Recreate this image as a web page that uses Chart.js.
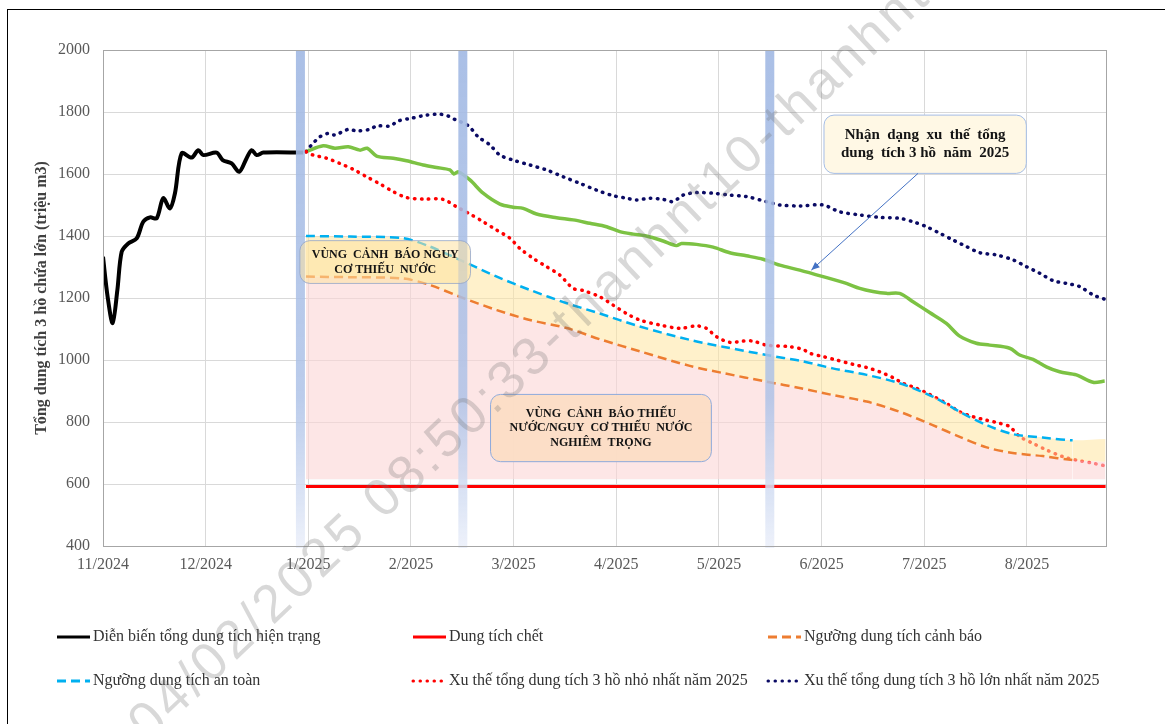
<!DOCTYPE html>
<html>
<head>
<meta charset="utf-8">
<script src="https://cdn.jsdelivr.net/npm/chart.js@4"></script>
<style>
  html, body { margin: 0; padding: 0; background: #fff; }
  #wrap { position: relative; width: 1165px; height: 724px; overflow: hidden; }
  #frame { position: absolute; left: 7px; top: 9px; right: -2px; bottom: -2px;
           border-top: 1.5px solid #000; border-left: 1.5px solid #000; pointer-events: none; }
</style>
</head>
<body>
<div id="wrap">
  <canvas id="chart" width="1165" height="724"></canvas>
  <div id="frame"></div>
</div>
<script>
// trục hoành: x = số tháng tính từ 11/2024
const monthLabels = ['11/2024', '12/2024', '1/2025', '2/2025', '3/2025', '4/2025', '5/2025', '6/2025', '7/2025', '8/2025'];
const xMax = 9.77;

// Diễn biến tổng dung tích hiện trạng
const actualX = [0, 0.045, 0.094, 0.14, 0.182, 0.246, 0.328, 0.392, 0.458, 0.523, 0.587, 0.652, 0.701, 0.766, 0.864, 0.928, 0.977, 1.107, 1.166, 1.253, 1.327, 1.399, 1.448, 1.497, 1.561, 1.95];
const actualY = [1333, 1204, 1119, 1226, 1349, 1376, 1392, 1446, 1460, 1457, 1522, 1489, 1538, 1667, 1653, 1677, 1661, 1669, 1645, 1634, 1607, 1651, 1677, 1661, 1669, 1669];

// Dung tích chết
const deadX = [1.977, 9.766];
const deadY = [592, 592];

// Ngưỡng an toàn / cảnh báo (cùng mốc x)
const thresholdX = [1.977, 2.405, 2.921, 3.184, 3.476, 3.836, 4.158, 4.518, 4.839, 5.229, 5.716, 6.037, 6.465, 6.797, 7.108, 7.439, 7.760, 8.082, 8.345, 8.607, 8.861, 9.153, 9.445, 9.766];
const safeY = [1400, 1398, 1393, 1366, 1323, 1269, 1226, 1183, 1150, 1108, 1065, 1043, 1016, 997, 973, 952, 925, 882, 833, 790, 761, 750, 741, 745];
const warnY = [1269, 1267, 1263, 1242, 1204, 1161, 1129, 1103, 1067, 1028, 981, 958, 930, 909, 887, 866, 833, 790, 752, 718, 700, 690, 677, 672];
const zoneBase = 615;

// Xu thế nhỏ nhất năm 2025
const minX = [1.977, 2.048, 2.178, 2.308, 2.437, 2.568, 2.697, 2.827, 2.957, 3.119, 3.314, 3.444, 3.574, 3.703, 3.834, 3.963, 4.060, 4.190, 4.320, 4.450, 4.579, 4.677, 4.839, 4.969, 5.099, 5.229, 5.424, 5.619, 5.781, 5.878, 5.976, 6.105, 6.235, 6.332, 6.462, 6.690, 6.819, 6.884, 7.014, 7.144, 7.306, 7.436, 7.565, 7.695, 7.792, 7.923, 8.052, 8.215, 8.345, 8.474, 8.605, 8.734, 8.832, 8.929, 9.059, 9.189, 9.351, 9.481, 9.643, 9.757];
const minY = [1672, 1661, 1651, 1634, 1615, 1591, 1568, 1543, 1524, 1519, 1518, 1494, 1471, 1446, 1419, 1393, 1360, 1328, 1301, 1274, 1231, 1224, 1204, 1177, 1150, 1129, 1113, 1102, 1110, 1102, 1075, 1057, 1061, 1061, 1048, 1043, 1034, 1022, 1011, 1000, 986, 976, 962, 943, 925, 909, 889, 860, 833, 817, 806, 796, 785, 753, 731, 710, 688, 677, 667, 659];

// Xu thế lớn nhất năm 2025
const maxX = [1.977, 2.032, 2.113, 2.194, 2.259, 2.389, 2.470, 2.600, 2.665, 2.795, 2.875, 3.006, 3.152, 3.281, 3.362, 3.427, 3.557, 3.654, 3.768, 3.866, 3.995, 4.158, 4.320, 4.482, 4.644, 4.807, 4.969, 5.099, 5.197, 5.326, 5.456, 5.553, 5.650, 5.781, 5.943, 6.105, 6.268, 6.462, 6.592, 6.787, 7.014, 7.176, 7.371, 7.566, 7.760, 7.890, 8.021, 8.150, 8.280, 8.410, 8.540, 8.702, 8.864, 8.994, 9.124, 9.254, 9.384, 9.513, 9.643, 9.757];
const maxY = [1672, 1694, 1720, 1731, 1726, 1744, 1739, 1744, 1755, 1755, 1771, 1780, 1790, 1793, 1787, 1776, 1756, 1720, 1694, 1661, 1645, 1629, 1613, 1591, 1570, 1548, 1530, 1522, 1516, 1522, 1518, 1511, 1532, 1540, 1538, 1532, 1527, 1511, 1500, 1497, 1500, 1478, 1468, 1460, 1457, 1446, 1430, 1409, 1387, 1366, 1346, 1339, 1323, 1301, 1280, 1256, 1247, 1237, 1210, 1196];

// Xu thế tổng dung tích 3 hồ năm 2025 (đường xanh lá)
const trendX = [1.977, 2.145, 2.259, 2.389, 2.502, 2.574, 2.665, 2.827, 2.957, 3.119, 3.249, 3.379, 3.418, 3.460, 3.574, 3.703, 3.866, 3.995, 4.093, 4.223, 4.418, 4.579, 4.742, 4.905, 5.034, 5.164, 5.294, 5.456, 5.586, 5.635, 5.781, 5.943, 6.105, 6.268, 6.429, 6.592, 6.787, 7.014, 7.241, 7.371, 7.500, 7.631, 7.760, 7.890, 8.052, 8.215, 8.345, 8.507, 8.637, 8.832, 8.929, 9.059, 9.189, 9.318, 9.481, 9.643, 9.757];
const trendY = [1672, 1691, 1683, 1688, 1677, 1683, 1658, 1651, 1643, 1629, 1621, 1613, 1600, 1607, 1581, 1538, 1503, 1493, 1489, 1471, 1459, 1452, 1441, 1430, 1414, 1406, 1400, 1384, 1369, 1376, 1373, 1364, 1346, 1336, 1325, 1306, 1290, 1269, 1247, 1231, 1221, 1215, 1215, 1188, 1153, 1118, 1077, 1054, 1048, 1038, 1016, 1002, 978, 962, 952, 928, 932];

// vạch phân đoạn và ghi chú
const separatorMonths = [1.923, 3.505, 6.495];
const notes = [
  { x0: 1.918, x1: 3.58, y0: 1385, y1: 1247, lines: ['VÙNG  CẢNH  BÁO NGUY', 'CƠ THIẾU  NƯỚC'],
    fill: 'rgba(253,226,160,0.55)', stroke: 'rgba(140,160,200,0.75)', size: 12, gap: 15 },
  { x0: 3.775, x1: 5.926, y0: 889, y1: 672, lines: ['VÙNG  CẢNH  BÁO THIẾU', 'NƯỚC/NGUY  CƠ THIẾU  NƯỚC', 'NGHIÊM  TRỌNG'],
    fill: 'rgba(252,221,196,0.92)', stroke: '#8eaadb', size: 12, gap: 14.5 },
  { x0: 7.023, x1: 8.994, y0: 1790, y1: 1602, lines: ['Nhận  dạng  xu  thế  tổng', 'dung  tích 3 hồ  năm  2025'],
    fill: '#fff8e5', stroke: '#a4bde6', size: 15, gap: 18 }
];
const arrowFrom = { x: 7.939, y: 1602 };
const arrowTo = { x: 6.90, y: 1290 };

const pts = (xs, ys) => xs.map((x, i) => ({ x: x, y: ys[i] }));
const serif = '"Liberation Serif", "Times New Roman", serif';
Chart.defaults.font.family = serif;

const dotted = [0.5, 6.5];
const dashed = [9, 5];
const hideLast = n => ctx => ctx.p1DataIndex === n - 1 ? 'rgba(0,0,0,0)' : undefined;

const separators = {
  id: 'separators',
  afterDatasetsDraw(chart) {
    const { ctx, chartArea, scales: { x } } = chart;
    separatorMonths.forEach(m => {
      const cx = x.getPixelForValue(m);
      const g = ctx.createLinearGradient(0, chartArea.top, 0, chartArea.bottom);
      g.addColorStop(0, 'rgba(163,186,228,0.92)');
      g.addColorStop(0.7, 'rgba(172,193,231,0.82)');
      g.addColorStop(1, 'rgba(236,240,250,0.92)');
      ctx.save();
      ctx.fillStyle = g;
      ctx.fillRect(cx - 4.5, chartArea.top, 9, chartArea.bottom - chartArea.top + 2);
      ctx.restore();
    });
  }
};

function roundRect(ctx, x, y, w, h, r) {
  ctx.beginPath();
  ctx.moveTo(x + r, y);
  ctx.arcTo(x + w, y, x + w, y + h, r);
  ctx.arcTo(x + w, y + h, x, y + h, r);
  ctx.arcTo(x, y + h, x, y, r);
  ctx.arcTo(x, y, x + w, y, r);
  ctx.closePath();
}

const annotations = {
  id: 'annotations',
  afterDraw(chart) {
    const { ctx, scales: { x, y }, chartArea } = chart;
    // khung vùng vẽ
    ctx.save();
    ctx.strokeStyle = '#a6a6a6';
    ctx.lineWidth = 1;
    ctx.strokeRect(chartArea.left + 0.5, chartArea.top + 0.5, chartArea.right - chartArea.left, chartArea.bottom - chartArea.top);
    ctx.restore();

    notes.forEach(n => {
      const l = x.getPixelForValue(n.x0), r = x.getPixelForValue(n.x1);
      const t = y.getPixelForValue(n.y0), b = y.getPixelForValue(n.y1);
      ctx.save();
      roundRect(ctx, l, t, r - l, b - t, 10);
      ctx.fillStyle = n.fill;
      ctx.fill();
      ctx.strokeStyle = n.stroke;
      ctx.lineWidth = 1;
      ctx.stroke();
      ctx.fillStyle = '#141414';
      ctx.font = 'bold ' + n.size + 'px ' + serif;
      ctx.textAlign = 'center';
      ctx.textBaseline = 'middle';
      const cy = (t + b) / 2 - (n.lines.length - 1) * n.gap / 2;
      n.lines.forEach((s, i) => ctx.fillText(s, (l + r) / 2, cy + i * n.gap));
      ctx.restore();
    });

    // mũi tên
    const x1 = x.getPixelForValue(arrowFrom.x), y1 = y.getPixelForValue(arrowFrom.y);
    const x2 = x.getPixelForValue(arrowTo.x), y2 = y.getPixelForValue(arrowTo.y);
    const a = Math.atan2(y2 - y1, x2 - x1);
    ctx.save();
    ctx.strokeStyle = '#4472c4';
    ctx.fillStyle = '#4472c4';
    ctx.lineWidth = 1;
    ctx.beginPath(); ctx.moveTo(x1, y1); ctx.lineTo(x2, y2); ctx.stroke();
    ctx.beginPath();
    ctx.moveTo(x2, y2);
    ctx.lineTo(x2 - 9 * Math.cos(a - 0.4), y2 - 9 * Math.sin(a - 0.4));
    ctx.lineTo(x2 - 9 * Math.cos(a + 0.4), y2 - 9 * Math.sin(a + 0.4));
    ctx.closePath(); ctx.fill();
    ctx.restore();

    // chú giải
    const cols = [57, 413, 768], rows = [637, 681];
    chart.data.datasets.forEach((ds, i) => {
      if (ds.noLegend) return;
      const lx = cols[i % 3], ly = rows[Math.floor(i / 3)];
      ctx.save();
      ctx.strokeStyle = ds.borderColor;
      ctx.lineWidth = 3;
      ctx.lineCap = ds.borderCapStyle || 'butt';
      ctx.setLineDash(ds.borderDash || []);
      ctx.beginPath(); ctx.moveTo(lx, ly); ctx.lineTo(lx + 33, ly); ctx.stroke();
      ctx.setLineDash([]);
      ctx.fillStyle = '#333';
      ctx.font = '16px ' + serif;
      ctx.textBaseline = 'middle';
      ctx.fillText(ds.label, lx + 36, ly);
      ctx.restore();
    });

    // dấu nước
    ctx.save();
    ctx.translate(150, 722);
    ctx.rotate(-43.5 * Math.PI / 180);
    ctx.font = '53px "Liberation Sans", sans-serif';
    ctx.letterSpacing = '4px';
    ctx.fillStyle = 'rgba(110,110,110,0.27)';
    ctx.textBaseline = 'middle';
    ctx.fillText('04/02/2025 08:50:33-thanhnt10-thanhnt10', -16, 0);
    ctx.restore();
  }
};

new Chart(document.getElementById('chart').getContext('2d'), {
  type: 'line',
  data: {
    datasets: [
      { label: 'Diễn biến tổng dung tích hiện trạng', data: pts(actualX, actualY),
        borderColor: '#000000', borderWidth: 4, tension: 0.3 },
      { label: 'Dung tích chết', data: pts(deadX, deadY),
        borderColor: '#ff0000', borderWidth: 3 },
      { label: 'Ngưỡng dung tích cảnh báo', data: pts(thresholdX, warnY),
        borderColor: '#ed7d31', borderWidth: 2.5, borderDash: dashed, tension: 0.3,
        segment: { borderColor: hideLast(warnY.length) },
        fill: { target: { value: zoneBase }, above: 'rgba(251,214,214,0.6)' } },
      { label: 'Ngưỡng dung tích an toàn', data: pts(thresholdX, safeY),
        borderColor: '#00b0f0', borderWidth: 2.5, borderDash: dashed, tension: 0.3,
        segment: { borderColor: hideLast(safeY.length) },
        fill: { target: 2, above: 'rgba(255,229,160,0.55)', below: 'rgba(255,229,160,0.55)' } },
      { label: 'Xu thế tổng dung tích 3 hồ nhỏ nhất năm 2025', data: pts(minX, minY),
        borderColor: '#ff0000', borderWidth: 3.5, borderDash: dotted, borderCapStyle: 'round', tension: 0.3 },
      { label: 'Xu thế tổng dung tích 3 hồ lớn nhất năm 2025', data: pts(maxX, maxY),
        borderColor: '#0a0a64', borderWidth: 3.5, borderDash: dotted, borderCapStyle: 'round', tension: 0.3 },
      { label: 'Tổng dung tích 3 hồ năm 2025', data: pts(trendX, trendY), noLegend: true,
        borderColor: '#7cc243', borderWidth: 3.5, tension: 0.3 }
    ]
  },
  options: {
    responsive: false,
    animation: false,
    devicePixelRatio: 1,
    elements: { point: { radius: 0 } },
    layout: { padding: { left: 32, top: 50, right: 59, bottom: 138 } },
    plugins: { legend: { display: false }, tooltip: { enabled: false } },
    scales: {
      x: {
        type: 'linear', min: 0, max: xMax,
        afterBuildTicks: s => { s.ticks = monthLabels.map((_, i) => ({ value: i })); },
        afterFit: s => { s.height = 40; },
        ticks: { callback: (v, i) => monthLabels[i], color: '#595959', font: { size: 16 },
                 padding: 9, maxRotation: 0, autoSkip: false },
        grid: { color: '#d9d9d9', drawTicks: false },
        border: { color: '#a6a6a6' }
      },
      y: {
        min: 400, max: 2000,
        afterFit: s => { s.width = 71; },
        ticks: { stepSize: 200, callback: v => String(v), color: '#595959', font: { size: 16 }, padding: 13 },
        grid: { color: '#d9d9d9', drawTicks: false },
        border: { color: '#a6a6a6' },
        title: { display: true, text: 'Tổng dung tích 3 hồ chứa lớn (triệu m3)', color: '#404040',
                 font: { size: 16, weight: 'bold' }, padding: 0 }
      }
    }
  },
  plugins: [separators, annotations]
});
</script>
</body>
</html>
